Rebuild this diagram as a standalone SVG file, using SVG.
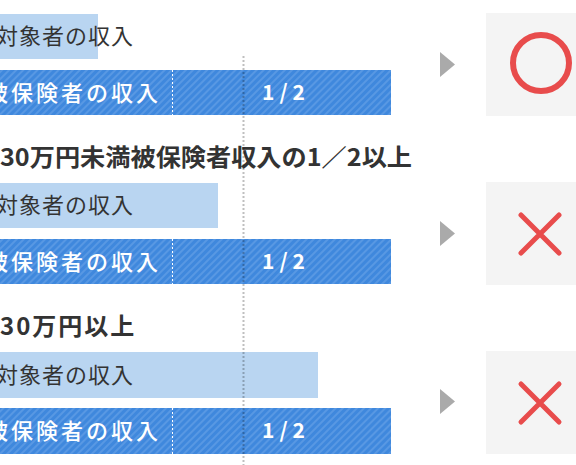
<svg xmlns="http://www.w3.org/2000/svg" width="576" height="465" viewBox="0 0 576 465">
<defs>
<pattern id="stripe" width="5" height="5" patternUnits="userSpaceOnUse" patternTransform="rotate(45)">
<rect width="5" height="5" fill="#3f88dd"/>
<rect width="2" height="5" fill="#5898e3"/>
</pattern>
</defs>
<style>
.light{fill:#b9d5f1}
.dark{fill:url(#stripe)}
.lt{font-family:"Noto Sans CJK JP","Noto Sans",sans-serif;font-size:22px;fill:#333;letter-spacing:1px}
.dt{font-family:"Noto Sans CJK JP","Noto Sans",sans-serif;font-size:22px;fill:#fff;letter-spacing:3px;font-weight:500}
.half{font-family:"Noto Sans CJK JP","Noto Sans",sans-serif;font-size:21px;fill:#fff;font-weight:bold;letter-spacing:5px}
.title{font-family:"Noto Sans CJK JP","Noto Sans",sans-serif;font-size:24px;fill:#333;font-weight:bold}
.sep{stroke:#fff;stroke-width:1;stroke-dasharray:2 2}
.box{fill:#f4f4f4}
.tri{fill:#aaaaaa}
.mark{fill:none;stroke:#e84c4c;stroke-linecap:round}
.guide{stroke:#000;stroke-opacity:0.25;stroke-width:2;stroke-dasharray:2 2}
</style>
<rect width="576" height="465" fill="#fff"/>

<g id="row1">
<rect class="light" x="0" y="14" width="98" height="45"/>
<text class="lt" x="-4" y="44">対象者の収入</text>
<rect class="dark" x="0" y="70" width="391" height="45"/>
<line class="sep" x1="172.5" y1="70" x2="172.5" y2="115"/>
<text class="dt" x="-14" y="101">被保険者の収入</text>
<text class="half" x="262" y="100">1/2</text>
</g>
<g id="result1">
<polygon class="tri" points="440,52 455,64.5 440,77"/>
<rect class="box" x="486" y="13" width="90" height="103"/>
<circle class="mark" cx="541" cy="63" r="28" stroke-width="6"/>
</g>

<g id="row2">
<text class="title" x="0" y="166" textLength="412" lengthAdjust="spacingAndGlyphs">30万円未満被保険者収入の1／2以上</text>
<rect class="light" x="0" y="183" width="218" height="45"/>
<text class="lt" x="-4" y="213">対象者の収入</text>
<rect class="dark" x="0" y="239" width="391" height="45"/>
<line class="sep" x1="172.5" y1="239" x2="172.5" y2="284"/>
<text class="dt" x="-14" y="270">被保険者の収入</text>
<text class="half" x="262" y="269">1/2</text>
</g>
<g id="result2">
<polygon class="tri" points="440,221 455,233.5 440,246"/>
<rect class="box" x="486" y="182" width="90" height="103"/>
<path class="mark" stroke-width="5" d="M521,215 L559,253 M559,215 L521,253"/>
</g>

<g id="row3">
<text class="title" x="0" y="335" letter-spacing="2">30万円以上</text>
<rect class="light" x="0" y="352" width="318" height="46"/>
<text class="lt" x="-4" y="383">対象者の収入</text>
<rect class="dark" x="0" y="408" width="391" height="46"/>
<line class="sep" x1="172.5" y1="408" x2="172.5" y2="454"/>
<text class="dt" x="-14" y="439">被保険者の収入</text>
<text class="half" x="262" y="438">1/2</text>
</g>
<g id="result3">
<polygon class="tri" points="440,389 455,401.5 440,414"/>
<rect class="box" x="486" y="351" width="90" height="103"/>
<path class="mark" stroke-width="5" d="M521,384 L559,422 M559,384 L521,422"/>
</g>

<g id="connectors">
<line class="guide" x1="243.5" y1="56" x2="243.5" y2="465"/>
</g>
</svg>
